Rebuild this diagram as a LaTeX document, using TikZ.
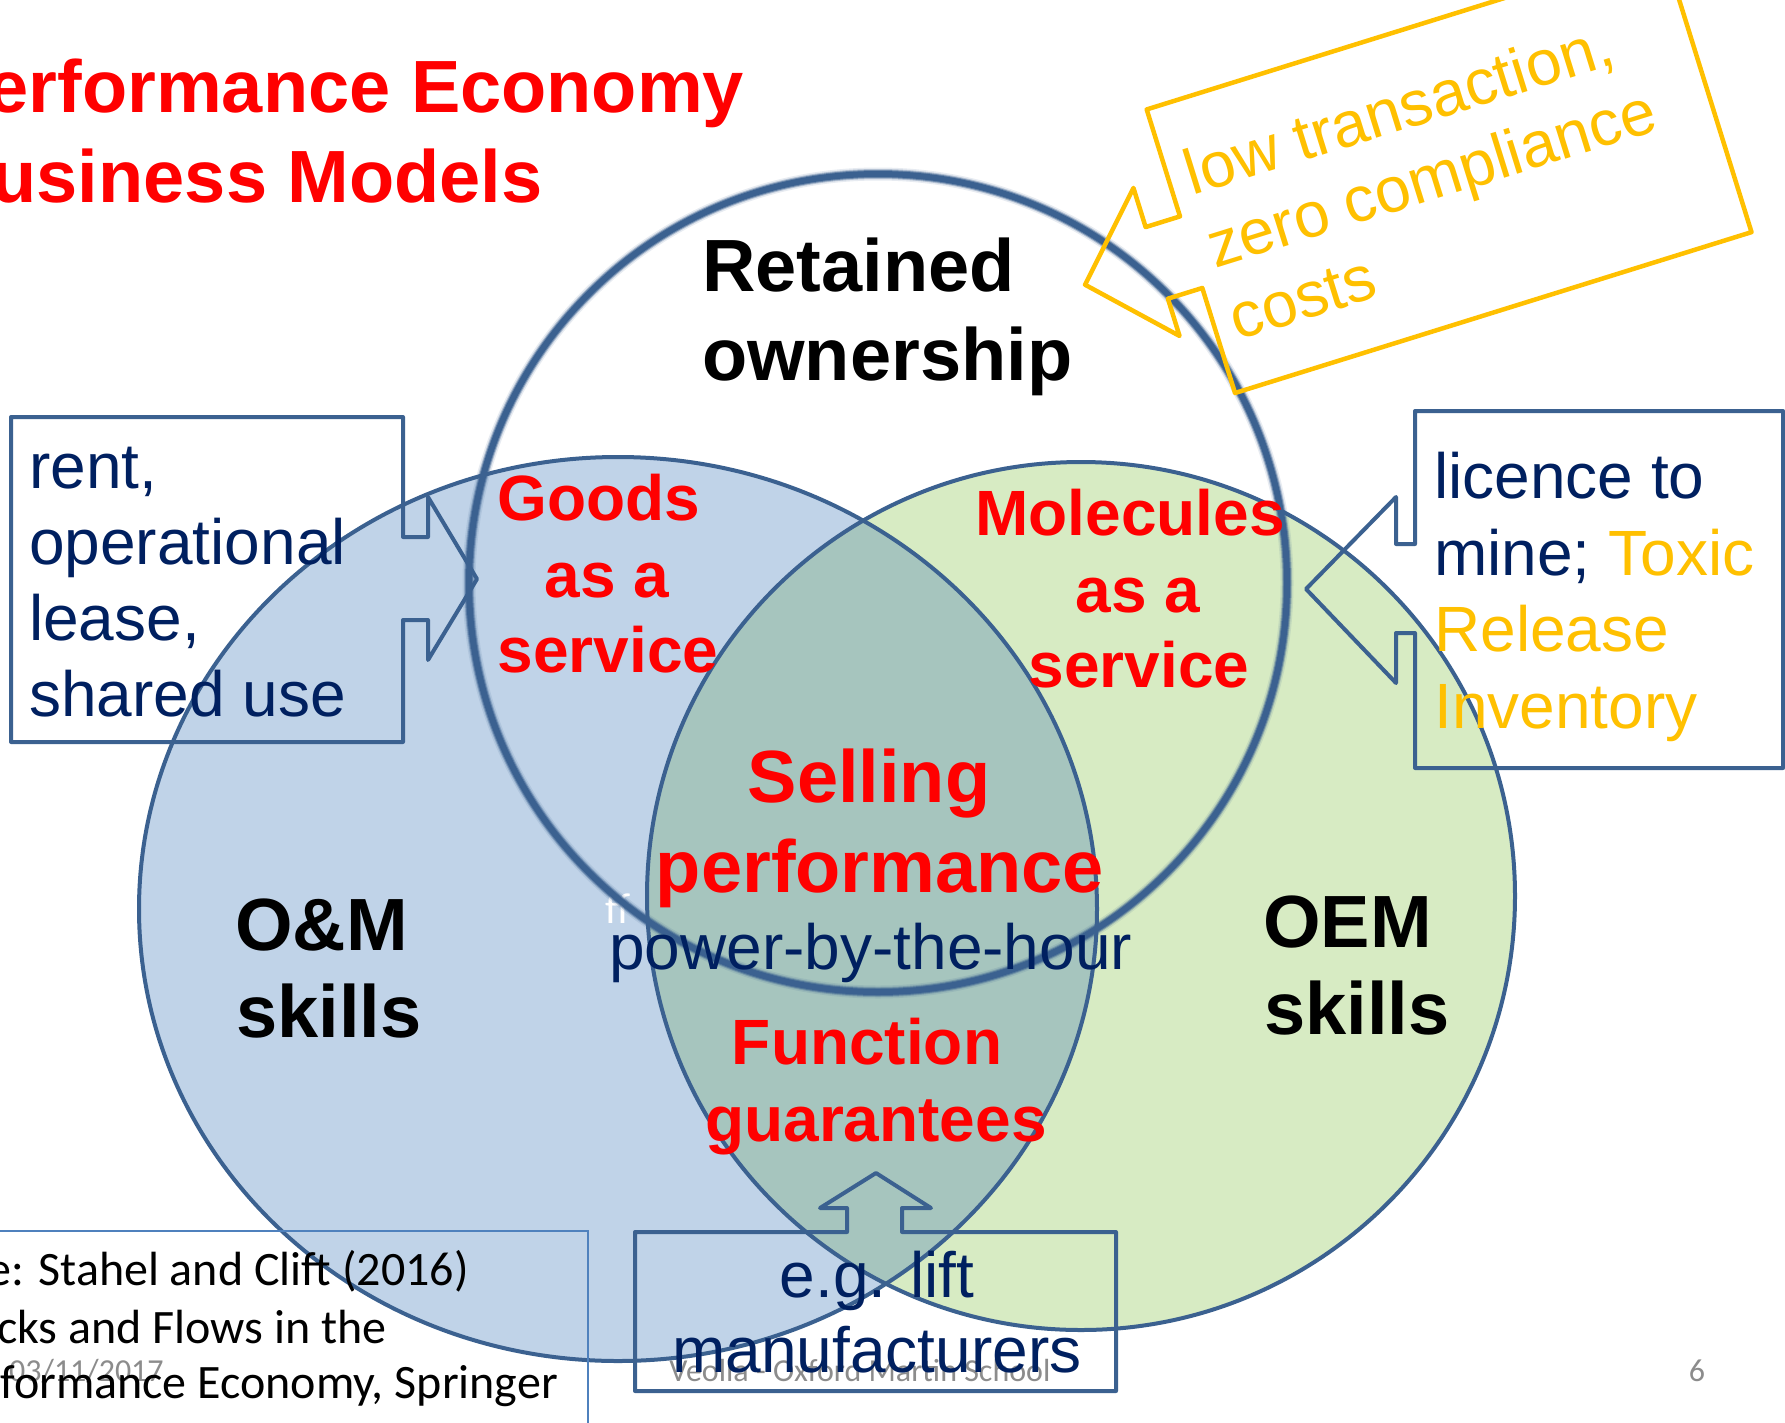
\documentclass[tikz,border=0pt]{standalone}
\usepackage{fontspec}
\setmainfont{Liberation Sans}
\newfontfamily\calibri{Carlito}
\definecolor{bluefill}{HTML}{C0D3E8}
\definecolor{greenfill}{HTML}{D7EBC3}
\definecolor{lensfill}{HTML}{A6C5BE}
\definecolor{outline}{HTML}{3B6190}
\definecolor{navy}{HTML}{002060}
\definecolor{gold}{HTML}{FFC000}
\definecolor{redtxt}{HTML}{FF0000}
\definecolor{srcline}{HTML}{4F81BD}
\definecolor{footgray}{HTML}{8C8C8C}
\tikzset{
  bigb/.style={font=\fontsize{74}{89}\selectfont\bfseries, inner sep=0pt, text=black},
  midb/.style={font=\fontsize{64}{76}\selectfont\bfseries, inner sep=0pt, text=redtxt},
  reg/.style={font=\fontsize{64}{76}\selectfont, inner sep=0pt, text=navy},
  srctxt/.style={font=\calibri\fontsize{48}{57}\selectfont, inner sep=0pt, text=black},
  foot/.style={font=\calibri\fontsize{32}{38}\selectfont, inner sep=0pt, text=footgray},
  callbox/.style={draw=outline, line width=4, line join=round},
  goldbox/.style={draw=gold, line width=4.5, line join=round},
  ring/.style={draw=outline, line width=4},
}
\begin{document}
\begin{tikzpicture}[x=1pt,y=-1pt]
\useasboundingbox (0,0) rectangle (1785,1422);
\clip (0,0) rectangle (1785,1422);
\fill[white] (0,0) rectangle (1785,1422);

% footer (slide master)
\node[foot, anchor=base west] (date) at (9,1381) {03/11/2017};
\node[foot, anchor=base] (footer) at (860,1381) {Veolia - Oxford Martin School};
\node[foot, anchor=base] (pagenum) at (1697,1381) {6};

% filled circles
\fill[bluefill] (618,909) ellipse [x radius=479, y radius=452];
\node[font=\calibri\fontsize{43}{50}\selectfont, text=white, inner sep=0pt, anchor=base west] (hidden) at (605,923) {ff};
\fill[greenfill] (1081,896) circle [radius=434];
\begin{scope}
  \clip (618,909) ellipse [x radius=479, y radius=452];
  \fill[lensfill] (1081,896) circle [radius=434];
\end{scope}
\draw[ring] (618,909) ellipse [x radius=479, y radius=452];
\draw[ring] (1081,896) circle [radius=434];

% retained-ownership circle (soft edge)
\foreach \w/\o in {13/0.12, 10/0.3, 8/0.6, 6/1} {
  \draw[outline, line width=\w, opacity=\o] (878,583) circle [radius=409];
}

% callouts
\draw[callbox] (11,417) -- (403,417) -- (403,537) -- (428,537) -- (428,497) -- (477,579)
  -- (428,660) -- (428,620) -- (403,620) -- (403,742) -- (11,742) -- cycle;
\draw[callbox] (1415,411) -- (1783,411) -- (1783,768) -- (1415,768) -- (1415,633) -- (1396,633)
  -- (1396,683) -- (1306,589) -- (1396,497) -- (1396,544) -- (1415,544) -- cycle;
\draw[callbox] (635,1232) -- (847,1232) -- (847,1208) -- (820,1208) -- (876,1173) -- (931,1208)
  -- (902,1208) -- (902,1232) -- (1116,1232) -- (1116,1391) -- (635,1391) -- cycle;
\begin{scope}[shift={(1235,393)}, rotate=17.3]
  \draw[goldbox] (0,0) -- (541,0) -- (541,-297) -- (0,-297) -- (0,-185) -- (-36,-185) -- (-36,-226)
    -- (-111,-148) -- (-36,-71) -- (-36,-110) -- (0,-110) -- cycle;
  \node[reg, text=gold, anchor=base west, rotate=17.3] (y1) at (18,-201) {low transaction,};
  \node[reg, text=gold, anchor=base west, rotate=17.3] (y2) at (18,-125) {zero compliance};
  \node[reg, text=gold, anchor=base west, rotate=17.3] (y3) at (18,-49) {costs};
\end{scope}

% source box
\draw[srcline, line width=1.5] (-10,1231) -- (588,1231) -- (588,1440);
\node[srctxt, anchor=base east] (src1) at (469,1285) {Source: Stahel and Clift (2016)};
\node[srctxt, anchor=base east] (src2) at (387,1343) {Stocks and Flows in the};
\node[srctxt, anchor=base east] (src3) at (558,1398) {Performance Economy, Springer};

% title
\node[bigb, text=redtxt, anchor=base west] (title1) at (-62,112) {Performance Economy};
\node[bigb, text=redtxt, anchor=base west] (title2) at (-62,202) {Business Models};

% circle labels
\node[bigb, anchor=base west] (ret1) at (702,291) {Retained};
\node[bigb, anchor=base west] (ret2) at (702,380) {ownership};
\node[bigb, anchor=base west] (om1) at (235,950) {O\&M};
\node[bigb, anchor=base west] (om2) at (236,1037) {skills};
\node[bigb, anchor=base west] (oem1) at (1263,947) {OEM};
\node[bigb, anchor=base west] (oem2) at (1264,1034) {skills};

% intersection labels
\node[midb, anchor=base] (g1) at (599,520) {Goods};
\node[midb, anchor=base] (g2) at (607,597) {as a};
\node[midb, anchor=base] (g3) at (608,672) {service};
\node[midb, anchor=base] (m1) at (1130,535) {Molecules};
\node[midb, anchor=base] (m2) at (1138,612) {as a};
\node[midb, anchor=base] (m3) at (1139,687) {service};
\node[bigb, text=redtxt, anchor=base] (s1) at (869,802) {Selling};
\node[bigb, text=redtxt, anchor=base] (s2) at (880,892) {performance};
\node[reg, anchor=base west] (pbh) at (609,969) {power-by-the-hour};
\node[midb, anchor=base] (f1) at (867,1064) {Function};
\node[midb, anchor=base] (f2) at (876,1141) {guarantees};

% callout texts
\node[reg, anchor=base west] (l1) at (29,488) {rent,};
\node[reg, anchor=base west] (l2) at (29,564) {operational};
\node[reg, anchor=base west] (l3) at (29,640) {lease,};
\node[reg, anchor=base west] (l4) at (29,716) {shared use};
\node[reg, anchor=base west] (r1) at (1434,498) {licence to};
\node[reg, anchor=base west] (r2) at (1434,575) {mine; \textcolor{gold}{Toxic}};
\node[reg, text=gold, anchor=base west] (r3) at (1434,651) {Release};
\node[reg, text=gold, anchor=base west] (r4) at (1434,728) {Inventory};
\node[reg, anchor=base] (b1) at (877,1297) {e.g. lift};
\node[reg, anchor=base] (b2) at (877,1372) {manufacturers};
\end{tikzpicture}
\end{document}
